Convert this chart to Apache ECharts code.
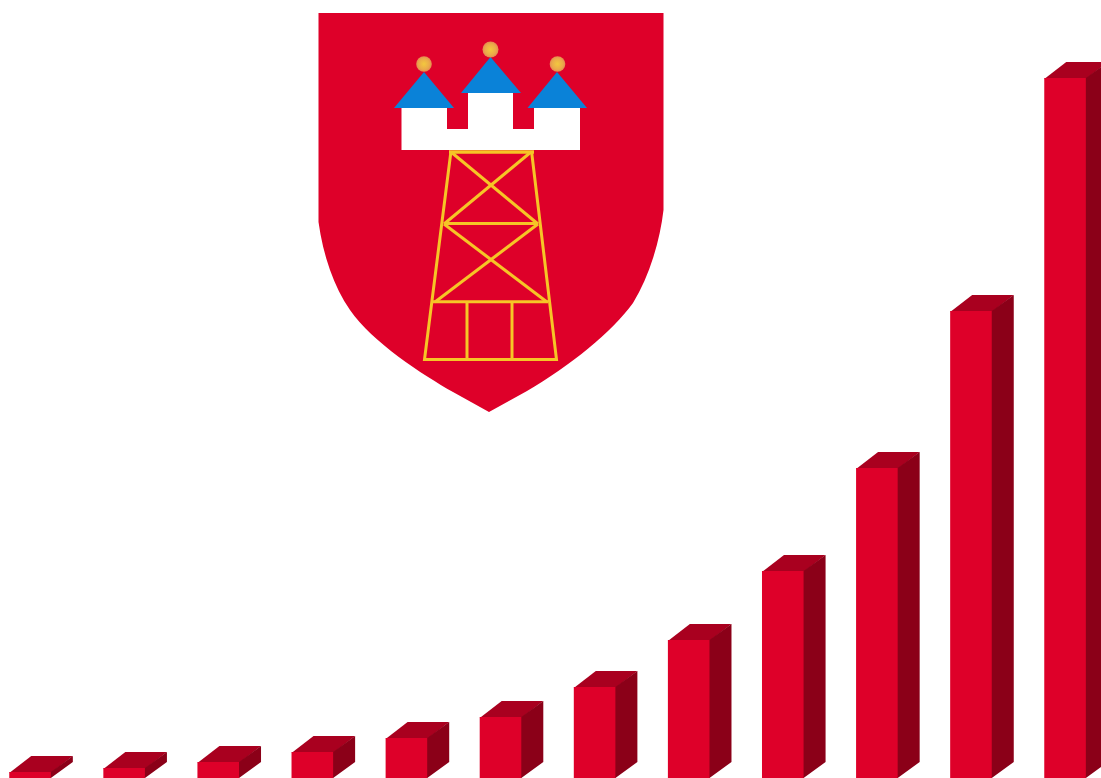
<!DOCTYPE html>
<html>
<head>
<meta charset="utf-8">
<title>Chart</title>
<style>
    html, body { margin: 0; padding: 0; background: #fff; }
    #main { width: 1101px; height: 778px; }
</style>
<script src="https://cdn.jsdelivr.net/npm/echarts@6/dist/echarts.min.js"></script>
</head>
<body>
<div id="main"></div>
<script type="text/javascript">
    // no labels in the picture, so the categories are just running numbers
    var categories = ['1', '2', '3', '4', '5', '6', '7', '8', '9', '10', '11', '12'];
    // bar heights (axis unit = 1px)
    var values = [6, 10, 16, 26, 40, 61, 91, 138, 207, 310, 467, 700];

    var FRONT = '#de0029', TOP = '#a9001f', SIDE = '#8b0018';
    var YELLOW = '#f6c526', BLUE = '#0a82d8';
    var DX = 22, DY = 16;

    // the graphic component has no plain 'path' type, register the shield as a shape
    echarts.graphic.registerShape('shield', echarts.graphic.extendPath(
        'M318.5 13 L663.5 13 L663.5 210 C660 240 650 275 633 303 C612 332 570 366 527 391 L489 412 L453 392 C423 375 372 342 350 310 C334 287 323 255 318.5 222 Z', {}
    ));

    function renderBar(params, api) {
        var base = api.coord([api.value(0), 0]);
        var tip = api.coord([api.value(0), api.value(1)]);
        var w = api.size([1, 0])[0] * 0.442;
        var x0 = base[0] - w / 2, x1 = base[0] + w / 2;
        var y0 = tip[1], y1 = base[1];
        return {
            type: 'group',
            children: [
                // top and side run 1px under the front so no light seam shows
                { type: 'polygon', shape: { points: [[x0, y0 + 1], [x0 + DX, y0 - DY], [x1 + DX, y0 - DY], [x1, y0 + 1]] }, style: { fill: TOP } },
                { type: 'polygon', shape: { points: [[x1 - 1, y0], [x1, y0], [x1 + DX, y0 - DY], [x1 + DX, y1 - DY], [x1, y1], [x1 - 1, y1]] }, style: { fill: SIDE } },
                { type: 'rect', shape: { x: x0, y: y0, width: w, height: y1 - y0 }, style: { fill: FRONT } }
            ]
        };
    }

    function ball(cx, cy, r) {
        return {
            type: 'circle', shape: { cx: cx, cy: cy, r: r },
            style: { fill: { type: 'radial', x: 0.5, y: 0.5, r: 0.5, colorStops: [
                { offset: 0, color: '#f3c83e' }, { offset: 0.7, color: '#eaa94a' }, { offset: 1, color: '#e58a50' }
            ] } }
        };
    }
    function roof(pts) {
        return { type: 'polygon', shape: { points: pts }, style: { fill: BLUE } };
    }
    function beam(pts, w) {
        return { type: 'polyline', shape: { points: pts }, style: { fill: null, stroke: YELLOW, lineWidth: w || 3 } };
    }

    // coat of arms above the bars
    var emblem = [
        { type: 'shield', style: { fill: FRONT } },
        { type: 'polygon', shape: { points: [[401.5, 108], [447, 108], [447, 129], [468, 129], [468, 93], [513, 93], [513, 129], [534, 129], [534, 108], [580, 108], [580, 150], [401.5, 150]] }, style: { fill: '#fff' } },
        roof([[424, 72], [394, 108], [454, 108]]),
        roof([[490.5, 57], [461, 93], [521, 93]]),
        roof([[557, 72], [527.5, 108], [587, 108]]),
        ball(424, 64, 7.8), ball(490.5, 49.5, 8), ball(557.5, 64, 7.8),
        beam([[451, 151], [424.5, 359.5], [556.5, 359.5], [531.5, 151]]),
        beam([[449, 152], [534, 152]], 3.5),
        beam([[444, 223.5], [538, 223.5]]),
        beam([[433, 301.7], [548, 301.7]]),
        beam([[451, 152], [538, 224]]),
        beam([[531, 152], [444, 224]]),
        beam([[444, 224], [547, 302]]),
        beam([[538, 224], [435, 302]]),
        beam([[467, 302], [467, 359]]),
        beam([[512, 302], [512, 359]])
    ];

    var myChart = echarts.init(document.getElementById('main'), null, { renderer: 'canvas' });
    myChart.setOption({
        animation: false,
        backgroundColor: '#fff',
        grid: { left: -17, top: 0, width: 1129.1, height: 778, outerBoundsMode: 'none' },
        xAxis: { type: 'category', data: categories, show: false },
        yAxis: { type: 'value', min: 0, max: 778, show: false },
        graphic: emblem,
        series: [{
            type: 'custom',
            renderItem: renderBar,
            clip: false,
            encode: { x: 0, y: 1 },
            data: categories.map(function (c, i) { return [i, values[i]]; })
        }]
    });
</script>
</body>
</html>
